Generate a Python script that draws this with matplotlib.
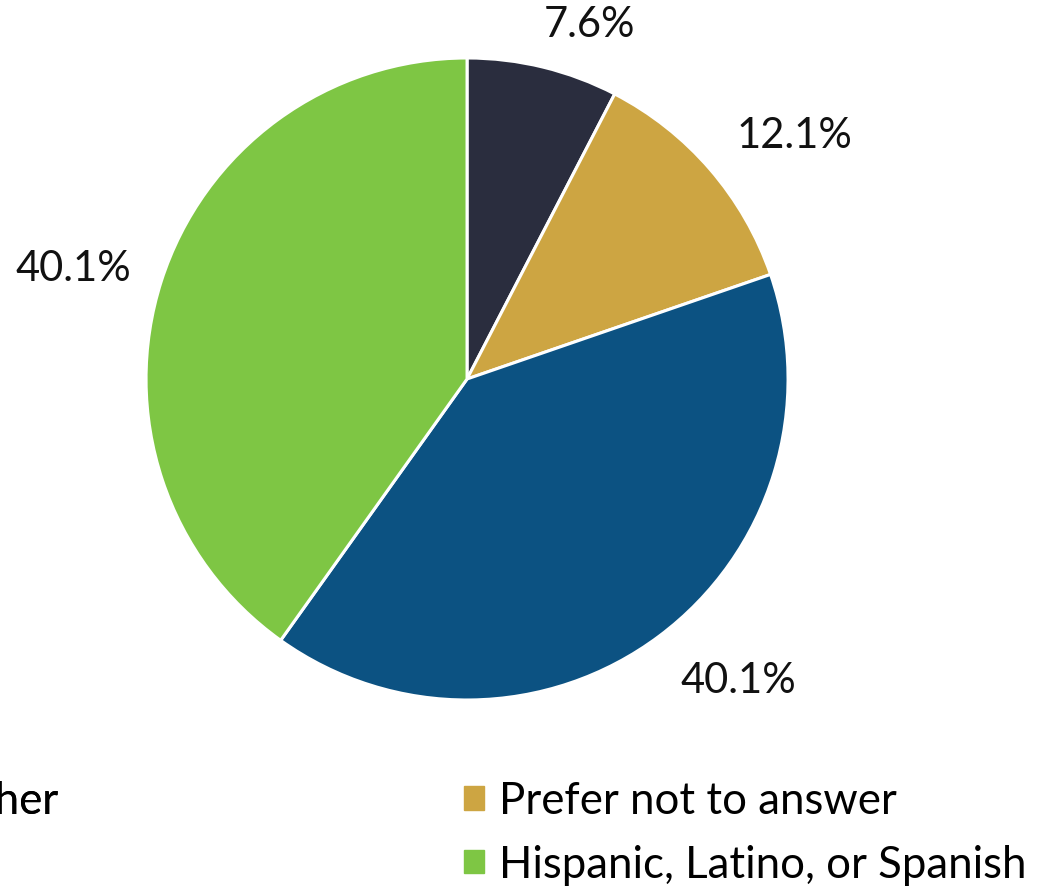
import matplotlib
matplotlib.use("Agg")
import matplotlib.pyplot as plt
from matplotlib.patches import Patch

plt.rcParams['font.family'] = ['Lato', 'DejaVu Sans']

# Shares by ethnicity (percent)
categories = ["Other", "Prefer not to answer", "Not Hispanic, Latino, or Spanish", "Hispanic, Latino, or Spanish"]
shares = [7.6, 12.1, 40.1, 40.1]
colors = ["#2a2d3e", "#cda542", "#0c5282", "#7ec644"]

fig = plt.figure(figsize=(10.38, 8.87), dpi=100)
ax = fig.add_axes([0.1407, 0.2097, 0.6185, 0.7238])

wedges, texts, pcts = ax.pie(
    shares, colors=colors, startangle=90, counterclock=False,
    autopct=lambda p: f"{p:.1f}%", pctdistance=1.25,
    wedgeprops=dict(edgecolor="white", linewidth=2.2),
    textprops=dict(fontsize=30, color="#111111"),
)
ax.set_xlim(-1, 1)
ax.set_ylim(-1, 1)
ax.set_aspect("equal")

# label placement around the rim
label_xy = [(0.380, 1.106), (1.019, 0.760), (0.844, -0.938), (-1.226, 0.346)]
for t, (x, y) in zip(pcts, label_xy):
    t.set_position((x, y))
    t.set_ha("center")
    t.set_va("center")

# legend: the "Other" column runs off the left edge
leg_kw = dict(frameon=False, fontsize=31.5, handlelength=0.45, handleheight=0.45,
              handletextpad=0.35, labelspacing=0.52, borderpad=0, borderaxespad=0)
left = fig.legend(handles=[Patch(color=colors[0], label=categories[0])],
                  loc="upper left", bbox_to_anchor=(-0.088, 0.119), **leg_kw)
fig.add_artist(left)
fig.legend(handles=[Patch(color=colors[1], label=categories[1]),
                    Patch(color=colors[3], label=categories[3])],
           loc="upper left", bbox_to_anchor=(0.447, 0.119), **leg_kw)

fig.savefig("out.png", dpi=100, facecolor="white")
